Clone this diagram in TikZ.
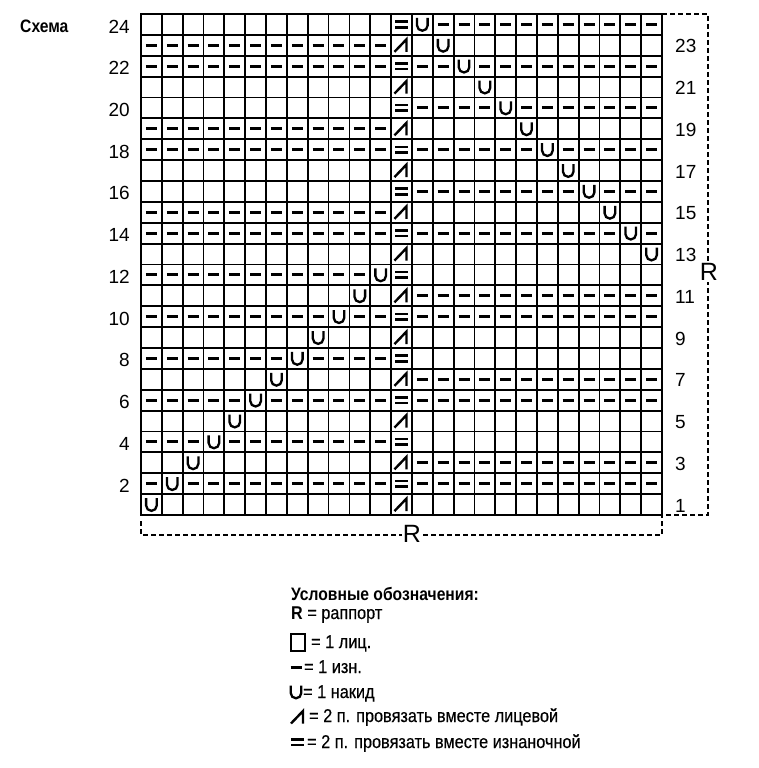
\documentclass[tikz,border=0pt]{standalone}
\usepackage{fontspec}
\setmainfont{Liberation Sans}
\newfontfamily\cnd[FakeStretch=0.88,FakeBold=0.4]{Liberation Sans}
\newfontfamily\cndb[FakeStretch=0.87]{Liberation Sans}
\newcommand\sy[3]{\pic at ({141+(#1-0.5)*20.84},{515-(#2-0.5)*20.875}) {#3};}
\tikzset{
  gl/.style={line width=1.8pt, line cap=rect},
  dots/.style={line width=1.8pt, dash pattern=on 5pt off 3pt},
  numl/.style={font=\fontsize{19}{19}\selectfont, anchor=east, inner sep=0pt},
  numr/.style={font=\fontsize{19}{19}\selectfont, anchor=west, inner sep=0pt},
  rlab/.style={font=\fontsize{25}{25}\selectfont, fill=white, inner sep=1pt},
  legt/.style={font=\cnd\fontsize{18.5}{18.5}\selectfont, anchor=base west, inner sep=0pt},
  legb/.style={font=\cndb\bfseries\fontsize{18}{18}\selectfont, anchor=base west, inner sep=0pt},
  pd/.pic={\draw[line width=3pt] (-5.5,0) -- (5.5,0);},
  yo/.pic={\draw[line width=2.3pt] (-5.3,-6.5) -- (-5.3,1) arc[start angle=180,end angle=0,radius=5.3] -- (5.3,-6.5);},
  kt/.pic={\draw[line width=2.4pt, line join=miter] (-7,6.5) -- (5,-6) -- (5,6.5);},
  pt/.pic={\draw[line width=2.6pt] (-6.5,-2.8) -- (6.5,-2.8) (-6.5,2.8) -- (6.5,2.8);}
}
\begin{document}
\begin{tikzpicture}[x=1pt,y=-1pt]
\useasboundingbox (0,0) rectangle (759,768);
\fill[white] (0,0) rectangle (759,768);
% title
\node[legb] (title) at (20,33) {Схема};
% grid
\foreach \i in {0,...,25} \draw[gl] ({141+\i*20.84},14) -- ({141+\i*20.84},515);
\foreach \j in {0,...,24} \draw[gl] (141,{14+\j*20.875}) -- (662,{14+\j*20.875});
% middle column
\foreach \ro in {1,3,...,23} {\sy{13}{\ro}{kt}}
\foreach \ro in {2,4,...,24} {\sy{13}{\ro}{pt}}
% left half
\foreach \ro in {1,3,...,11} {\sy{\ro}{\ro}{yo}}
\foreach \ro in {2,4,...,12} {\sy{\ro}{\ro}{yo}
  \foreach \co in {1,...,12} {\ifnum\co=\ro\relax\else\sy{\co}{\ro}{pd}\fi}}
\foreach \ro in {14,15,18,19,22,23} {\foreach \co in {1,...,12} {\sy{\co}{\ro}{pd}}}
% right half
\foreach \ro in {2,3,6,7,10,11} {\foreach \co in {14,...,25} {\sy{\co}{\ro}{pd}}}
\foreach \ro in {13,15,...,23} {\pgfmathtruncatemacro\uu{38-\ro}\sy{\uu}{\ro}{yo}}
\foreach \ro in {14,16,...,24} {\pgfmathtruncatemacro\uu{38-\ro}\sy{\uu}{\ro}{yo}
  \foreach \co in {14,...,25} {\ifnum\co=\uu\relax\else\sy{\co}{\ro}{pd}\fi}}
% row numbers
\foreach \ro in {2,4,...,24} \node[numl] (nl\ro) at (130,{517-(\ro-0.5)*20.875}) {\ro};
\foreach \ro in {1,3,...,23} \node[numr] (nr\ro) at (675,{516-(\ro-0.5)*20.875}) {\ro};
% repeat brackets
\coordinate (tr) at (662,14);
\coordinate (br) at (662,515);
\coordinate (rt) at (708,14);
\coordinate (rb) at (708,515);
\coordinate (bl0) at (141,521);
\coordinate (bl) at (141,535);
\coordinate (brr) at (662,535);
\draw[dots] (tr) -- (rt) -- (rb) -- (br);
\draw[dots] (bl0) -- (bl) -- (brr) -- (br);
\node[rlab] (rr) at (709,272) {R};
\node[rlab] (rbm) at (412,534) {R};
% legend
\node[legb] (lt) at (291,600) {Условные обозначения:};
\node[legt] (l1) at (291,619) {{\cndb\bfseries R} = раппорт};
\draw[line width=1.8pt] (291,634) rectangle (305,651);
\node[legt] (l2) at (311,648) {= 1 лиц.};
\pic at (296,667) {pd};
\node[legt] (l3) at (304,673) {= 1 изн.};
\pic at (296,692) {yo};
\node[legt] (l4) at (303,698) {= 1 накид};
\pic at (298,717) {kt};
\node[legt] (l5) at (309,722) {= 2 п. провязать вместе лицевой};
\pic at (297.5,742) {pt};
\node[legt] (l6) at (307,748) {= 2 п. провязать вместе изнаночной};
\end{tikzpicture}
\end{document}
